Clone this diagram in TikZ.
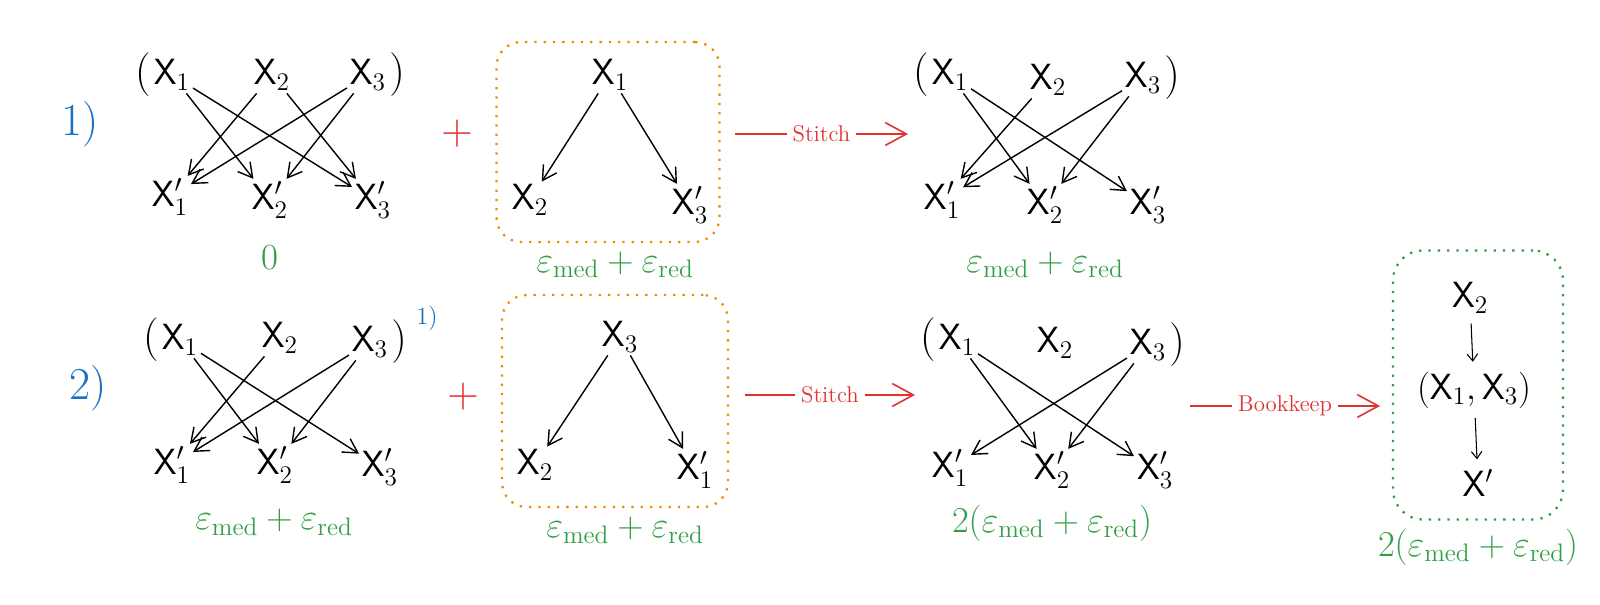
\documentclass[tikz,border=0pt]{standalone}
\usepackage{amssymb}
\usepackage{xcolor}
\usetikzlibrary{positioning,arrows.meta}
\definecolor{exred}{HTML}{E03131}
\definecolor{exgreen}{HTML}{2F9E44}
\definecolor{exblue}{HTML}{1971C2}
\definecolor{exorange}{HTML}{F08C00}

\begin{document}
\begin{tikzpicture}[x=0.02cm,y=-0.02cm,
    var/.style={font=\fontsize{21}{24}\selectfont,inner sep=1.5pt},
    par/.style={font=\fontsize{24}{26}\selectfont,inner sep=0pt},
    link/.style={-{Straight Barb[length=8pt,width=9pt]},line width=0.8pt},
    small/.style={-{Straight Barb[length=4pt,width=6pt]},line width=0.6pt,shorten <=4pt,shorten >=4pt},
    cost/.style={text=exgreen,font=\fontsize{21}{24}\selectfont},
    num/.style={text=exblue,font=\fontsize{26}{28}\selectfont},
    plus/.style={text=exred,font=\fontsize{32}{34}\selectfont},
    obox/.style={draw=exorange,line width=1.3pt,dash pattern=on 1.3pt off 4pt,rounded corners=14pt},
    gbox/.style={draw=exgreen,line width=1.3pt,dash pattern=on 1.3pt off 4pt,rounded corners=17pt},
    redarrow/.style={exred,line width=0.9pt,-{Straight Barb[length=12pt,width=13pt]}},
    tag/.style={text=exred,fill=white,font=\fontsize{13}{15}\selectfont}]

    \useasboundingbox (0,0) rectangle (1600,605);

    \node[num] (n1) at (80,124) {1)};
    \node[num] (n2) at (88,388) {2)};

    % row 1, full graph
    \node[var] (tlx1) at (172,75) {$\mathsf{X}_1$};
    \node[var] (tlx2) at (272,75) {$\mathsf{X}_2$};
    \node[var] (tlx3) at (368,75) {$\mathsf{X}_3$};
    \node[par,left=0pt of tlx1] (tlpl) {$($};
    \node[par,right=0pt of tlx3] (tlpr) {$)$};
    \node[var] (tly1) at (170,197) {$\mathsf{X}'_1$};
    \node[var] (tly2) at (270,200) {$\mathsf{X}'_2$};
    \node[var] (tly3) at (373,200) {$\mathsf{X}'_3$};
    \draw[link] (tlx1) -- (tly2);
    \draw[link] (tlx1) -- (tly3);
    \draw[link] (tlx2) -- (tly1);
    \draw[link] (tlx2) -- (tly3);
    \draw[link] (tlx3) -- (tly1);
    \draw[link] (tlx3) -- (tly2);
    \node[cost] (tlc) at (270,258) {0};

    \node[plus] (tplus) at (457,134) {$+$};

    \node[obox,minimum width=4.46cm,minimum height=4cm] (boxA) at (608,142) {};
    \node[var] (ta1) at (610,75) {$\mathsf{X}_1$};
    \node[var] (ta2) at (530,200) {$\mathsf{X}_2$};
    \node[var] (ta3) at (690,205) {$\mathsf{X}'_3$};
    \draw[link] (ta1) -- (ta2);
    \draw[link] (ta1) -- (ta3);
    \node[cost] (tac) at (615,265) {$\varepsilon_{\mathrm{med}}+\varepsilon_{\mathrm{red}}$};

    \coordinate (sa1) at (735,134);
    \coordinate (sa2) at (908,134);
    \draw[redarrow] (sa1) -- node[tag] {Stitch} (sa2);

    % row 1, stitched graph
    \node[var] (trx1) at (950,75) {$\mathsf{X}_1$};
    \node[var] (trx2) at (1048,80) {$\mathsf{X}_2$};
    \node[var] (trx3) at (1143,78) {$\mathsf{X}_3$};
    \node[par,left=0pt of trx1] (trpl) {$($};
    \node[par,right=0pt of trx3] (trpr) {$)$};
    \node[var] (try1) at (942,200) {$\mathsf{X}'_1$};
    \node[var] (try2) at (1045,205) {$\mathsf{X}'_2$};
    \node[var] (try3) at (1148,205) {$\mathsf{X}'_3$};
    \draw[link] (trx1) -- (try2);
    \draw[link] (trx1) -- (try3);
    \draw[link] (trx2) -- (try1);
    \draw[link] (trx3) -- (try1);
    \draw[link] (trx3) -- (try2);
    \node[cost] (trc) at (1045,265) {$\varepsilon_{\mathrm{med}}+\varepsilon_{\mathrm{red}}$};

    % row 2, graph from step 1
    \node[var] (blx1) at (180,340) {$\mathsf{X}_1$};
    \node[var] (blx2) at (280,338) {$\mathsf{X}_2$};
    \node[var] (blx3) at (370,342) {$\mathsf{X}_3$};
    \node[par,left=0pt of blx1] (blpl) {$($};
    \node[par,right=0pt of blx3] (blpr) {$)$};
    \node[text=exblue,font=\fontsize{14}{16}\selectfont] (bln) at (427,318) {1)};
    \node[var] (bly1) at (172,465) {$\mathsf{X}'_1$};
    \node[var] (bly2) at (275,465) {$\mathsf{X}'_2$};
    \node[var] (bly3) at (380,467) {$\mathsf{X}'_3$};
    \draw[link] (blx1) -- (bly2);
    \draw[link] (blx1) -- (bly3);
    \draw[link] (blx2) -- (bly1);
    \draw[link] (blx3) -- (bly1);
    \draw[link] (blx3) -- (bly2);
    \node[cost] (blc) at (274,522) {$\varepsilon_{\mathrm{med}}+\varepsilon_{\mathrm{red}}$};

    \node[plus] (bplus) at (463,397) {$+$};

    \node[obox,minimum width=4.52cm,minimum height=4.24cm] (boxB) at (615,401) {};
    \node[var] (ba3) at (620,337) {$\mathsf{X}_3$};
    \node[var] (ba2) at (535,465) {$\mathsf{X}_2$};
    \node[var] (ba1) at (695,470) {$\mathsf{X}'_1$};
    \draw[link] (ba3) -- (ba2);
    \draw[link] (ba3) -- (ba1);
    \node[cost] (bac) at (625,530) {$\varepsilon_{\mathrm{med}}+\varepsilon_{\mathrm{red}}$};

    \coordinate (sb1) at (745,395);
    \coordinate (sb2) at (915,395);
    \draw[redarrow] (sb1) -- node[tag] {Stitch} (sb2);

    % row 2, stitched graph
    \node[var] (brx1) at (957,340) {$\mathsf{X}_1$};
    \node[var] (brx2) at (1055,343) {$\mathsf{X}_2$};
    \node[var] (brx3) at (1148,345) {$\mathsf{X}_3$};
    \node[par,left=0pt of brx1] (brpl) {$($};
    \node[par,right=0pt of brx3] (brpr) {$)$};
    \node[var] (bry1) at (950,468) {$\mathsf{X}'_1$};
    \node[var] (bry2) at (1052,470) {$\mathsf{X}'_2$};
    \node[var] (bry3) at (1155,470) {$\mathsf{X}'_3$};
    \draw[link] (brx1) -- (bry2);
    \draw[link] (brx1) -- (bry3);
    \draw[link] (brx3) -- (bry1);
    \draw[link] (brx3) -- (bry2);
    \node[cost] (brc) at (1052,523) {$2(\varepsilon_{\mathrm{med}}+\varepsilon_{\mathrm{red}})$};

    \node[gbox,minimum width=3.4cm,minimum height=5.38cm] (boxC) at (1478,385) {};
    \coordinate (sc1) at (1190,406);
    \coordinate (sc2) at (1380,406);
    \draw[redarrow] (sc1) -- node[tag] {Bookkeep} (sc2);

    \node[var] (gx2) at (1470,298) {$\mathsf{X}_2$};
    \node[var] (gx13) at (1474,390) {$(\mathsf{X}_1,\mathsf{X}_3)$};
    \node[var] (gy) at (1478,483) {$\mathsf{X}'$};
    \draw[small] (gx2) -- (gx13);
    \draw[small] (gx13) -- (gy);
    \node[cost] (gc) at (1478,547) {$2(\varepsilon_{\mathrm{med}}+\varepsilon_{\mathrm{red}})$};
\end{tikzpicture}
\end{document}
